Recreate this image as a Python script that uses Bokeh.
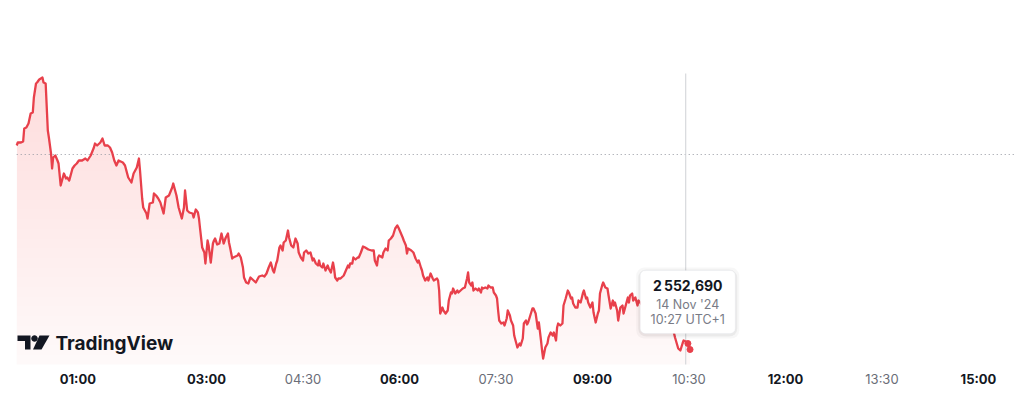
import numpy as np
from bokeh.plotting import figure
from bokeh.models import BoxAnnotation, Label, Range1d
from bokeh.core.properties import value
from bokeh.embed import file_html
from bokeh.resources import INLINE

# minutes after 00:00 (UTC+1), 14 Nov '24
minutes = [
    3, 4, 7, 9, 10, 12, 14, 16, 18, 19,
    21, 22, 24, 27, 28, 30, 32, 33, 35, 36,
    37, 39, 41, 42, 44, 46, 47, 49, 50, 52,
    55, 57, 59, 61, 64, 67, 69, 72, 75, 76,
    78, 81, 83, 85, 88, 90, 92, 94, 96, 98,
    102, 104, 107, 110, 112, 115, 117, 118, 120, 121,
    124, 125, 127, 130, 131, 133, 135, 137, 140, 142,
    145, 148, 149, 152, 154, 157, 159, 160, 162, 164,
    167, 168, 170, 172, 173, 174, 176, 178, 179, 181,
    182, 184, 186, 187, 188, 190, 192, 194, 196, 198,
    200, 201, 202, 204, 205, 209, 210, 212, 214, 215,
    217, 219, 221, 224, 226, 228, 229, 232, 234, 236,
    238, 240, 242, 243, 245, 246, 248, 249, 251, 252,
    254, 256, 257, 259, 261, 263, 265, 266, 268, 270,
    271, 273, 275, 277, 279, 280, 282, 284, 285, 286,
    288, 289, 291, 293, 294, 296, 298, 299, 300, 302,
    303, 305, 308, 310, 312, 313, 314, 316, 317, 319,
    321, 322, 324, 326, 328, 331, 334, 336, 337, 339,
    340, 341, 344, 345, 347, 349, 350, 352, 354, 356,
    358, 359, 361, 363, 364, 366, 367, 368, 371, 373,
    375, 377, 378, 380, 381, 382, 384, 386, 387, 389,
    391, 392, 395, 396, 397, 398, 400, 401, 403, 405,
    406, 408, 409, 410, 412, 414, 415, 417, 419, 421,
    423, 424, 425, 427, 428, 429, 431, 433, 434, 436,
    437, 438, 440, 442, 443, 445, 447, 448, 450, 451,
    452, 453, 455, 457, 458, 460, 461, 463, 464, 466,
    467, 469, 470, 472, 473, 475, 476, 478, 479, 480,
    482, 484, 485, 487, 489, 490, 492, 493, 494, 496,
    498, 499, 501, 503, 504, 506, 507, 508, 510, 512,
    513, 515, 517, 518, 520, 521, 522, 524, 526, 527,
    529, 531, 532, 534, 535, 536, 538, 540, 541, 543,
    545, 546, 547, 549, 550, 552, 554, 555, 557, 559,
    560, 561, 563, 564, 566, 568, 569, 571, 573, 574,
    575, 577, 578, 580, 582, 583, 589, 599, 608, 615,
    617, 620, 622, 624, 625, 627, 629, 631,
]

# price in thousands
price_k = [
    2611.5, 2612.4, 2612.4, 2612.7, 2616.6, 2616.9, 2618.1, 2621.1, 2621.4, 2625.9,
    2630.1, 2630.4, 2631.3, 2631.9, 2630.4, 2630.1, 2616.0, 2613.9, 2609.1, 2604.6,
    2607.9, 2608.5, 2607.0, 2606.1, 2599.5, 2601.9, 2603.1, 2601.6, 2601.9, 2601.0,
    2604.6, 2605.5, 2606.1, 2607.0, 2607.0, 2607.6, 2607.0, 2608.5, 2610.9, 2612.1,
    2611.5, 2612.4, 2613.6, 2611.5, 2611.5, 2610.9, 2609.4, 2607.0, 2605.5, 2607.0,
    2606.4, 2605.5, 2601.9, 2600.4, 2603.1, 2604.9, 2607.6, 2604.0, 2595.6, 2592.9,
    2591.1, 2589.6, 2594.1, 2594.4, 2597.1, 2596.5, 2595.6, 2594.4, 2591.1, 2595.9,
    2596.5, 2598.9, 2600.1, 2596.5, 2592.9, 2589.6, 2592.9, 2598.0, 2592.0, 2591.4,
    2591.1, 2589.9, 2592.3, 2591.4, 2589.6, 2586.6, 2580.9, 2579.4, 2576.1, 2583.0,
    2581.5, 2576.4, 2582.1, 2583.0, 2583.6, 2581.8, 2582.1, 2585.1, 2582.1, 2583.9,
    2585.1, 2582.4, 2580.9, 2577.6, 2577.9, 2578.5, 2579.1, 2577.9, 2574.9, 2571.9,
    2570.4, 2570.1, 2571.9, 2571.0, 2570.4, 2571.6, 2572.2, 2572.5, 2572.2, 2573.1,
    2574.9, 2576.4, 2574.0, 2573.4, 2576.1, 2577.0, 2580.9, 2581.5, 2580.0, 2582.4,
    2583.0, 2586.0, 2583.9, 2581.5, 2580.9, 2583.6, 2582.1, 2579.4, 2577.9, 2577.0,
    2579.4, 2580.0, 2579.1, 2579.4, 2577.0, 2577.6, 2576.1, 2575.5, 2577.0, 2575.5,
    2574.9, 2576.1, 2574.0, 2575.5, 2574.6, 2573.4, 2576.4, 2574.6, 2571.9, 2571.0,
    2571.6, 2571.6, 2572.5, 2574.0, 2575.5, 2574.9, 2576.1, 2576.1, 2577.9, 2577.3,
    2577.9, 2577.9, 2579.4, 2581.2, 2580.9, 2580.3, 2580.0, 2580.0, 2577.0, 2575.5,
    2577.9, 2578.5, 2577.9, 2579.4, 2580.6, 2580.0, 2583.0, 2583.6, 2584.5, 2586.6,
    2587.5, 2586.9, 2585.4, 2583.9, 2583.0, 2581.5, 2579.1, 2580.6, 2580.0, 2579.4,
    2577.6, 2576.4, 2577.0, 2574.9, 2574.0, 2572.5, 2571.0, 2571.9, 2571.0, 2573.1,
    2571.6, 2571.0, 2571.6, 2571.0, 2568.0, 2561.1, 2562.9, 2562.0, 2561.1, 2562.0,
    2565.0, 2567.4, 2567.1, 2568.6, 2567.1, 2568.0, 2567.4, 2568.0, 2568.6, 2568.9,
    2571.6, 2573.4, 2570.4, 2569.5, 2570.4, 2568.0, 2568.6, 2568.0, 2568.6, 2567.4,
    2568.9, 2568.6, 2568.9, 2568.6, 2569.5, 2568.9, 2568.9, 2567.4, 2566.5, 2565.6,
    2562.0, 2559.0, 2558.1, 2558.4, 2557.5, 2559.6, 2562.0, 2560.5, 2559.0, 2557.5,
    2554.5, 2552.1, 2550.9, 2552.1, 2551.5, 2553.6, 2558.1, 2559.0, 2557.8, 2558.4,
    2560.5, 2562.6, 2562.6, 2561.1, 2556.6, 2558.4, 2553.0, 2550.0, 2547.6, 2550.9,
    2552.1, 2553.9, 2555.4, 2554.5, 2555.4, 2553.0, 2556.9, 2558.1, 2557.5, 2558.1,
    2563.5, 2565.6, 2568.0, 2567.4, 2565.6, 2565.9, 2564.1, 2562.9, 2562.9, 2565.0,
    2564.4, 2567.1, 2568.0, 2565.6, 2565.9, 2564.4, 2562.9, 2564.4, 2561.4, 2558.4,
    2561.1, 2562.0, 2567.1, 2569.5, 2570.4, 2568.9, 2568.6, 2566.5, 2562.6, 2565.0,
    2563.5, 2564.4, 2562.0, 2559.0, 2562.9, 2563.5, 2561.1, 2563.5, 2565.9, 2564.4,
    2566.5, 2567.1, 2565.0, 2565.9, 2563.5, 2565.0, 2562.6, 2559.6, 2558.4, 2556.6,
    2553.9, 2550.6, 2550.0, 2552.1, 2553.0, 2552.7, 2552.1, 2550.3,
]

prev_close = 2608.8

hover_minute = 627
hover_price = 2552.69
hover_value = "2\u202f552,690"
hover_date = "14 Nov '24"
hover_time = "10:27 UTC+1"

major_ticks = [60, 180, 360, 540, 720, 900]
major_labels = ["01:00", "03:00", "06:00", "09:00", "12:00", "15:00"]
minor_ticks = [270, 450, 630, 810]
minor_labels = ["04:30", "07:30", "10:30", "13:30"]

RED = "#E8404B"
DARK = "#131722"
FONT = "Inter"

W, H = 1016, 408
MIN_PER_PX = 60 / 64.33   # time scale
K_PER_PX = 0.3            # price scale
X0 = -13 * MIN_PER_PX
Y_TOP = 2655.0
X_END = X0 + W * MIN_PER_PX
Y_BOT = Y_TOP - H * K_PER_PX


def sx(px):
    return X0 + px * MIN_PER_PX


def sy(py):
    return Y_TOP - py * K_PER_PX


pane_top = sy(73)
pane_bottom = sy(364)

p = figure(width=W, height=H, x_range=Range1d(X0, X_END), y_range=Range1d(Y_BOT, Y_TOP),
           x_axis_type=None, y_axis_type=None, output_backend="svg",
           toolbar_location=None, min_border=0, outline_line_color=None)
p.grid.visible = False
p.background_fill_color = "white"
p.border_fill_color = "white"

t = np.array(minutes, dtype=float)
v = np.array(price_k)

# vertical gradient under the line, built from stacked translucent layers
A_BOT, A_TOP, N = 0.03, 0.27, 30
p.varea(x=t, y1=pane_bottom, y2=v, fill_color=RED, fill_alpha=A_BOT)
step = 1 - ((1 - A_TOP) / (1 - A_BOT)) ** (1 / N)
for k in range(1, N + 1):
    b = pane_bottom + (pane_top - pane_bottom) * k / N
    p.varea(x=t, y1=b, y2=np.maximum(v, b), fill_color=RED, fill_alpha=step)

# previous close
p.segment(x0=t[0], y0=prev_close, x1=X_END, y1=prev_close,
          line_color="#9598a1", line_dash="1 3", line_width=1)

# crosshair
p.segment(x0=hover_minute, y0=pane_top, x1=hover_minute, y1=pane_bottom,
          line_color="#cfd1d6", line_width=1)

p.line(t, v, line_color=RED, line_width=2.3, line_join="round")
p.scatter(t[-2:], v[-2:], size=6, color=RED)

# x labels
label_y = sy(378)
p.text(x=major_ticks, y=[label_y] * len(major_ticks), text=major_labels,
       text_font=value(FONT), text_font_size="13px", text_font_style="bold",
       text_color=DARK, text_align="center", text_baseline="middle")
p.text(x=minor_ticks, y=[label_y] * len(minor_ticks), text=minor_labels,
       text_font=value(FONT), text_font_size="13px",
       text_color="#6a6d78", text_align="center", text_baseline="middle")

# TradingView logo
p.patch([sx(17), sx(30), sx(30), sx(24.5), sx(24.5), sx(17)],
        [sy(335), sy(335), sy(349), sy(349), sy(340.5), sy(340.5)],
        fill_color=DARK, line_color=None)
p.scatter([sx(34)], [sy(338)], size=5.6, color=DARK)
p.patch([sx(39), sx(49), sx(41), sx(32.5)],
        [sy(335), sy(335), sy(349), sy(349)],
        fill_color=DARK, line_color=None)
p.text(x=[sx(55)], y=[sy(343)], text=["TradingView"], text_font=value(FONT),
       text_font_size="19px", text_font_style="bold", text_color=DARK,
       text_align="left", text_baseline="middle")

# tooltip
cx = hover_minute + 2 * MIN_PER_PX
left = cx - 47.5 * MIN_PER_PX
right = cx + 47.5 * MIN_PER_PX
top = hover_price + 71 * K_PER_PX
bottom = hover_price + 8 * K_PER_PX
for grow, alpha in ((4, 0.03), (2, 0.05)):
    p.add_layout(BoxAnnotation(left=left - grow * MIN_PER_PX, right=right + grow * MIN_PER_PX,
                               top=top + (grow - 1) * K_PER_PX, bottom=bottom - (grow + 1) * K_PER_PX,
                               fill_color="black", fill_alpha=alpha, line_alpha=0,
                               border_radius=8))
p.add_layout(BoxAnnotation(left=left, right=right, top=top, bottom=bottom,
                           fill_color="white", fill_alpha=1, line_color="#e0e3eb",
                           line_width=1, border_radius=5))
for txt, dy, size, style, col in ((hover_value, 56, "14px", "bold", DARK),
                                  (hover_date, 37, "12.5px", "normal", "#787b86"),
                                  (hover_time, 22, "12.5px", "normal", "#787b86")):
    p.add_layout(Label(x=cx, y=hover_price + dy * K_PER_PX, text=txt, text_align="center",
                       text_baseline="middle", text_font=FONT, text_font_size=size,
                       text_font_style=style, text_color=col, level="overlay"))

open("out.html", "w").write(file_html(p, INLINE))
